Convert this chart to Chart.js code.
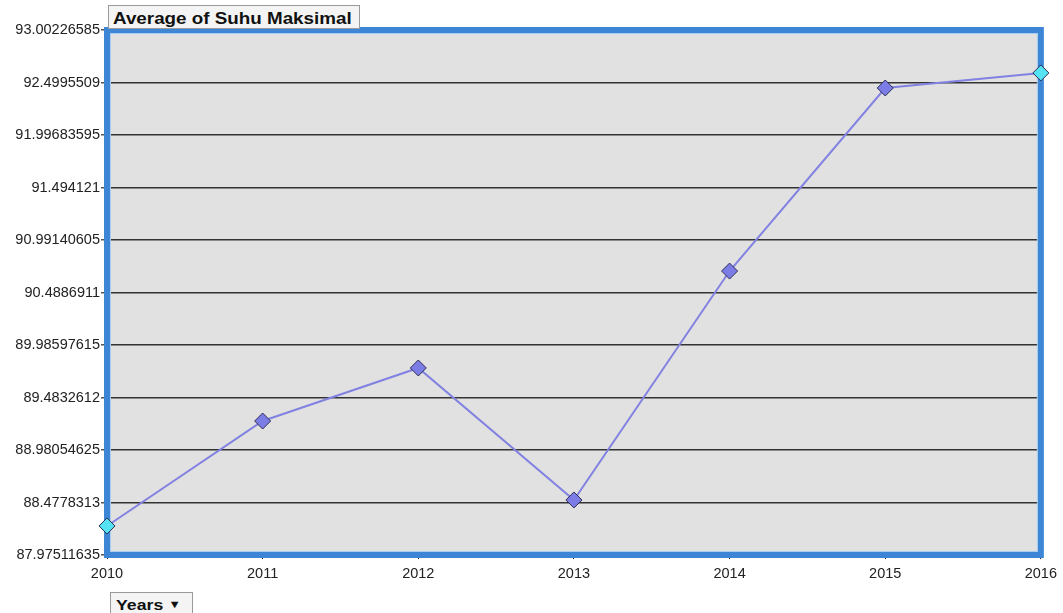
<!DOCTYPE html>
<html>
<head>
<meta charset="utf-8">
<script src="https://cdn.jsdelivr.net/npm/chart.js@4/dist/chart.umd.min.js"></script>
<style>
  html, body { margin: 0; padding: 0; background: #fff; }
  #wrap { position: relative; width: 1063px; height: 613px; }
  canvas { display: block; }
  .box {
    position: absolute; font-family: "Liberation Sans", Arial, sans-serif; font-weight: bold;
    color: #111; background: #f4f4f4; border: 1px solid #9a9a9a; box-sizing: border-box; line-height: 1;
    white-space: nowrap; overflow: hidden;
  }
  .box span { display: inline-block; transform-origin: left center; }
  #title { left: 108px; top: 5px; width: 252px; height: 24px; font-size: 16.5px; padding: 4px 0 0 4px; }
  #title span { transform: scaleX(1.14); }
  #years { left: 110px; top: 592px; width: 83px; height: 22px; font-size: 15px; padding: 4px 0 0 5px; }
  #years span { transform: scaleX(1.18); }
  #years small { font-size: 11px; vertical-align: 2px; }
</style>
</head>
<body>
<div id="wrap">
  <canvas id="suhuChart" width="1063" height="613"></canvas>
  <div id="title" class="box"><span>Average of Suhu Maksimal</span></div>
  <div id="years" class="box"><span>Years <small>&#9660;</small></span></div>
</div>
<script>
// Average of Suhu Maksimal per year
const years = ['2010', '2011', '2012', '2013', '2014', '2015', '2016'];
const suhuMaks = [88.253, 89.258, 89.766, 88.502, 90.694, 92.447, 92.591];
const yTicks = [87.97511635, 88.4778313, 88.98054625, 89.4832612, 89.98597615, 90.4886911,
  90.99140605, 91.494121, 91.99683595, 92.4995509, 93.00226585];
const yTickLabels = ['87.97511635', '88.4778313', '88.98054625', '89.4832612', '89.98597615', '90.4886911',
  '90.99140605', '91.494121', '91.99683595', '92.4995509', '93.00226585'];

const plotArea = {
  id: 'plotArea',
  beforeDraw(chart) {
    const { ctx, chartArea: a } = chart;
    ctx.save();
    ctx.fillStyle = '#e1e1e1';
    ctx.fillRect(a.left, a.top, a.right - a.left, a.bottom - a.top);
    ctx.restore();
  },
  beforeDatasetsDraw(chart) {
    const { ctx, chartArea: a } = chart;
    ctx.save();
    ctx.strokeStyle = '#3d86d6';
    ctx.lineWidth = 6;
    ctx.strokeRect(a.left, a.top, a.right - a.left, a.bottom - a.top);
    ctx.strokeStyle = '#a9cdf0';
    ctx.lineWidth = 1;
    ctx.strokeRect(a.left + 3.5, a.top + 3.5, a.right - a.left - 7, a.bottom - a.top - 7);
    ctx.restore();
  }
};

const pointFill = suhuMaks.map((v, i) => (i === 0 || i === suhuMaks.length - 1) ? '#55e2f2' : '#7c7ce6');
const tickFont = { family: '"Liberation Sans", Arial, sans-serif', size: 14.5 };

new Chart(document.getElementById('suhuChart'), {
  type: 'line',
  data: {
    labels: years,
    datasets: [{
      label: 'Average of Suhu Maksimal',
      data: suhuMaks,
      borderColor: '#8282e2',
      borderWidth: 2,
      tension: 0,
      clip: false,
      pointStyle: 'rectRot',
      pointRadius: 8,
      pointHoverRadius: 8,
      pointBackgroundColor: pointFill,
      pointBorderColor: '#2e2e55',
      pointBorderWidth: 1
    }]
  },
  options: {
    responsive: false,
    animation: false,
    layout: { padding: { left: 0, right: 19, top: 30, bottom: 32 } },
    plugins: { legend: { display: false }, tooltip: { enabled: false } },
    scales: {
      x: {
        type: 'category',
        offset: false,
        grid: { drawOnChartArea: false, color: '#222', tickLength: 4 },
        border: { display: false },
        ticks: { color: '#222', padding: 6, maxRotation: 0, autoSkip: false, font: tickFont },
        afterFit(s) { s.height = 26; }
      },
      y: {
        min: yTicks[0],
        max: yTicks[yTicks.length - 1],
        afterBuildTicks(s) { s.ticks = yTicks.map(v => ({ value: v })); },
        grid: { color: '#333', lineWidth: 1.5, tickLength: 6, tickColor: '#555' },
        border: { display: false },
        ticks: {
          color: '#222', padding: 1, autoSkip: false, font: tickFont,
          callback: (v, i) => yTickLabels[i]
        },
        afterFit(s) { s.width = 107; }
      }
    }
  },
  plugins: [plotArea]
});
</script>
</body>
</html>
